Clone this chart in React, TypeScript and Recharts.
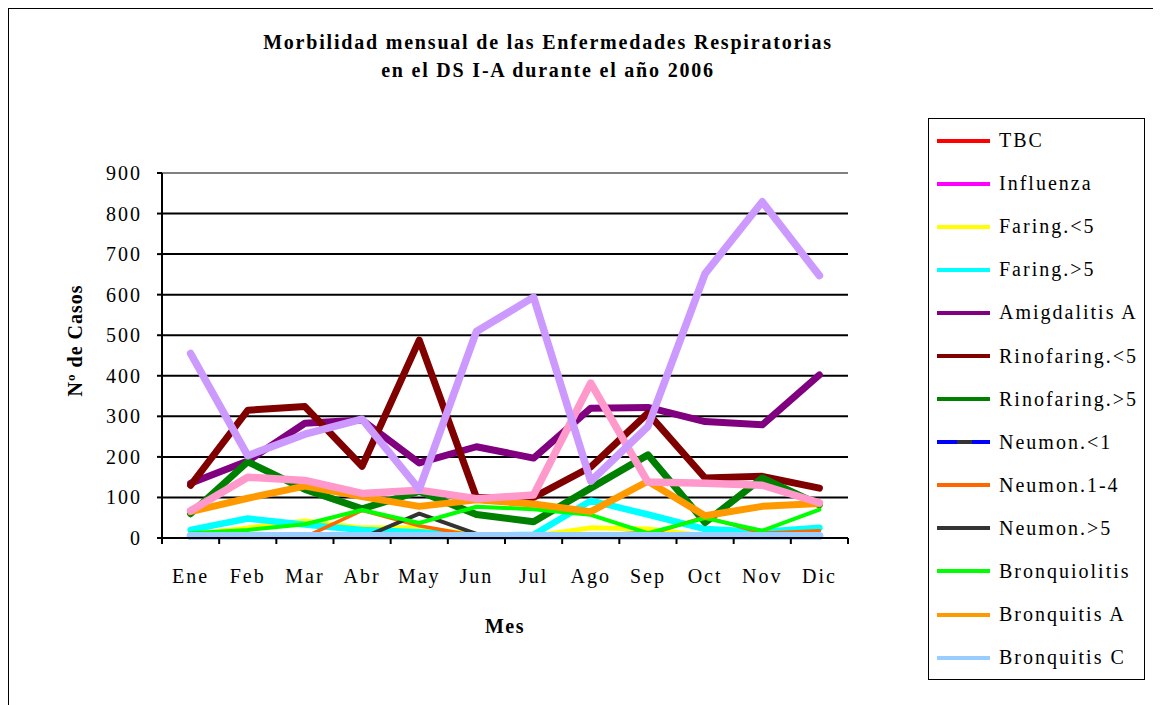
import React from "react";
import { LineChart, Line, XAxis, YAxis, CartesianGrid, Legend, ReferenceLine, Label } from "recharts";

const months = ["Ene", "Feb", "Mar", "Abr", "May", "Jun", "Jul", "Ago", "Sep", "Oct", "Nov", "Dic"];
const yTicks = [0, 100, 200, 300, 400, 500, 600, 700, 800, 900];

const tbc = [0, 0, 0, 0, 0, 0, 0, 0, 0, 0, 0, 0];
const influenza = [0, 0, 0, 0, 0, 0, 0, 0, 0, 0, 0, 0];
const faringMenor5 = [8, 25, 42, 25, 25, 8, 5, 25, 22, 5, 3, 3];
const faringMayor5 = [20, 48, 33, 20, 14, 5, 8, 92, 58, 22, 15, 25];
const amigdalitisA = [135, 190, 283, 291, 185, 225, 197, 320, 322, 287, 279, 402];
const rinofaringMenor5 = [130, 315, 324, 177, 488, 100, 100, 175, 308, 148, 152, 123];
const rinofaringMayor5 = [60, 188, 120, 72, 115, 58, 40, 123, 205, 38, 148, 82];
const neumonMenor1 = [1, 1, 1, 1, 1, 1, 1, 1, 1, 1, 1, 1];
const neumon1a4 = [0, 0, 2, 68, 30, 5, 2, 2, 8, 52, 12, 18];
const neumonMayor5 = [0, 0, 0, 0, 60, 10, 8, 8, 12, 5, 3, 3];
const bronquiolitis = [12, 20, 34, 69, 37, 77, 71, 57, 12, 49, 18, 70];
const bronquitisA = [65, 98, 128, 102, 78, 94, 84, 65, 140, 55, 78, 85];
const bronquitisC = [5, 5, 5, 5, 5, 5, 5, 5, 5, 5, 5, 5];
const serie14 = [67, 150, 142, 110, 118, 97, 106, 382, 138, 135, 130, 87];
const serie15 = [455, 203, 256, 293, 120, 509, 594, 140, 275, 652, 829, 647];

const series = [
  { key: "TBC", values: tbc, color: "#FF0000", width: 3, legend: true },
  { key: "Influenza", values: influenza, color: "#FF00FF", width: 3, legend: true },
  { key: "Faring.<5", values: faringMenor5, color: "#FFFF00", width: 5, legend: true },
  { key: "Faring.>5", values: faringMayor5, color: "#00FFFF", width: 6.5, legend: true },
  { key: "Amigdalitis A", values: amigdalitisA, color: "#800080", width: 7, legend: true },
  { key: "Rinofaring.<5", values: rinofaringMenor5, color: "#800000", width: 7, legend: true },
  { key: "Rinofaring.>5", values: rinofaringMayor5, color: "#008000", width: 7, legend: true },
  { key: "Neumon.<1", values: neumonMenor1, color: "#0000FF", width: 3, legend: true },
  { key: "Neumon.1-4", values: neumon1a4, color: "#FF6600", width: 3.5, legend: true },
  { key: "Neumon.>5", values: neumonMayor5, color: "#333333", width: 4, legend: true },
  { key: "Bronquiolitis", values: bronquiolitis, color: "#00FF00", width: 4, legend: true },
  { key: "Bronquitis A", values: bronquitisA, color: "#FF9900", width: 7, legend: true },
  { key: "Bronquitis C", values: bronquitisC, color: "#99CCFF", width: 8, legend: true },
  { key: "Serie 14", values: serie14, color: "#FF99CC", width: 7.5, legend: false },
  { key: "Serie 15", values: serie15, color: "#CC99FF", width: 7.5, legend: false },
];

const data = months.map((m, i) => {
  const row: Record<string, string | number> = { mes: m };
  series.forEach((s) => {
    row[s.key] = s.values[i];
  });
  return row;
});

const FONT = "'Liberation Serif', 'Times New Roman', serif";

const XTick = (props: any) => {
  const { x, y, payload, width, visibleTicksCount, index } = props;
  const half = width / (2 * visibleTicksCount);
  return (
    <g>
      <line x1={x - half} y1={y} x2={x - half} y2={y + 6} stroke="#000" strokeWidth={2} />
      {index === visibleTicksCount - 1 && (
        <line x1={x + half} y1={y} x2={x + half} y2={y + 6} stroke="#000" strokeWidth={2} />
      )}
      <text
        x={x}
        y={y + 45}
        textAnchor="middle"
        fontSize={20}
        fontFamily={FONT}
        fill="#000"
        style={{ letterSpacing: "2px" }}
      >
        {payload.value}
      </text>
    </g>
  );
};

const YTick = (props: any) => {
  const { x, y, payload } = props;
  return (
    <text
      x={x}
      y={y}
      dy={7}
      textAnchor="end"
      fontSize={20}
      fontFamily={FONT}
      fill="#000"
      style={{ letterSpacing: "2px" }}
    >
      {payload.value}
    </text>
  );
};

const LegendContent = () => {
  const items = series.filter((s) => s.legend);
  return (
    <div
      style={{
        width: 217,
        height: 562,
        boxSizing: "border-box",
        border: "1px solid #000",
        background: "#fff",
        fontFamily: FONT,
        fontSize: 20,
        color: "#000",
      }}
    >
      {items.map((p) => (
        <div key={p.key} style={{ height: 43.1, display: "flex", alignItems: "center" }}>
          <svg width={70} height={10} style={{ flex: "0 0 70px" }}>
            <line x1={8} y1={5} x2={61} y2={5} stroke={p.color} strokeWidth={4} />
            {p.key === "Neumon.<1" && (
              <line x1={28} y1={5} x2={43} y2={5} stroke="#333333" strokeWidth={4} />
            )}
          </svg>
          <span style={{ whiteSpace: "pre", letterSpacing: "2px" }}>{p.key}</span>
        </div>
      ))}
    </div>
  );
};

export default function App() {
  return (
    <div
      style={{
        position: "relative",
        width: 1150,
        height: 697,
        borderTop: "1px solid #000",
        borderLeft: "1px solid #000",
        borderRight: "1px solid #000",
        background: "#fff",
      }}
    >
      <div
        style={{
          position: "absolute",
          left: 0,
          top: 19,
          width: 1078,
          textAlign: "center",
          fontFamily: FONT,
          fontWeight: "bold",
          fontSize: 20,
          letterSpacing: "1.8px",
          lineHeight: "28px",
          color: "#000",
          zIndex: 2,
        }}
      >
        Morbilidad mensual de las Enfermedades Respiratorias
        <br />
        en el DS I-A durante el año 2006
      </div>
      <LineChart
        width={1150}
        height={696}
        data={data}
        margin={{ top: 164, right: 94, bottom: 67, left: 0 }}
      >
        <CartesianGrid horizontal={true} vertical={false} stroke="#000" strokeWidth={2} />
        <ReferenceLine y={900} stroke="#808080" strokeWidth={2} />
        <XAxis
          dataKey="mes"
          scale="band"
          height={100}
          axisLine={{ stroke: "#000", strokeWidth: 2 }}
          tickLine={false}
          tickSize={0}
          tickMargin={0}
          tick={<XTick />}
          interval={0}
        >
          <Label
            value="Mes"
            position="insideTop"
            offset={81}
            style={{ fontFamily: FONT, fontWeight: "bold", fontSize: 20, fill: "#000", letterSpacing: "1.5px" }}
          />
        </XAxis>
        <YAxis
          width={153}
          domain={[0, 900]}
          ticks={yTicks}
          interval={0}
          axisLine={{ stroke: "#000", strokeWidth: 2 }}
          tickLine={{ stroke: "#000", strokeWidth: 2 }}
          tickSize={5}
          tickMargin={15}
          tick={<YTick />}
        >
          <Label
            content={(lp: any) => {
              const vb = lp.viewBox || {};
              const cx = 66;
              const cy = vb.y + vb.height / 2 - 15;
              return (
                <text
                  x={cx}
                  y={cy}
                  transform={`rotate(-90, ${cx}, ${cy})`}
                  textAnchor="middle"
                  dominantBaseline="central"
                  fontFamily={FONT}
                  fontWeight="bold"
                  fontSize={20}
                  fill="#000"
                  style={{ letterSpacing: "1px" }}
                >
                  Nº de Casos
                </text>
              );
            }}
          />
        </YAxis>
        <YAxis
          yAxisId="borde"
          orientation="right"
          width={0}
          tick={false}
          tickLine={false}
          axisLine={{ stroke: "#808080", strokeWidth: 2 }}
        />
        <Legend
          layout="vertical"
          align="right"
          verticalAlign="top"
          width={217}
          height={562}
          wrapperStyle={{ position: "absolute", left: 919, top: 109, width: 217, height: 562 }}
          content={<LegendContent />}
        />
        {series.map((s) => (
          <Line
            key={s.key}
            type="linear"
            dataKey={s.key}
            name={s.key}
            stroke={s.color}
            strokeWidth={s.width}
            strokeLinejoin="round"
            strokeLinecap="round"
            dot={false}
            activeDot={false}
            legendType={s.legend ? "line" : "none"}
            isAnimationActive={false}
          />
        ))}
      </LineChart>
    </div>
  );
}
